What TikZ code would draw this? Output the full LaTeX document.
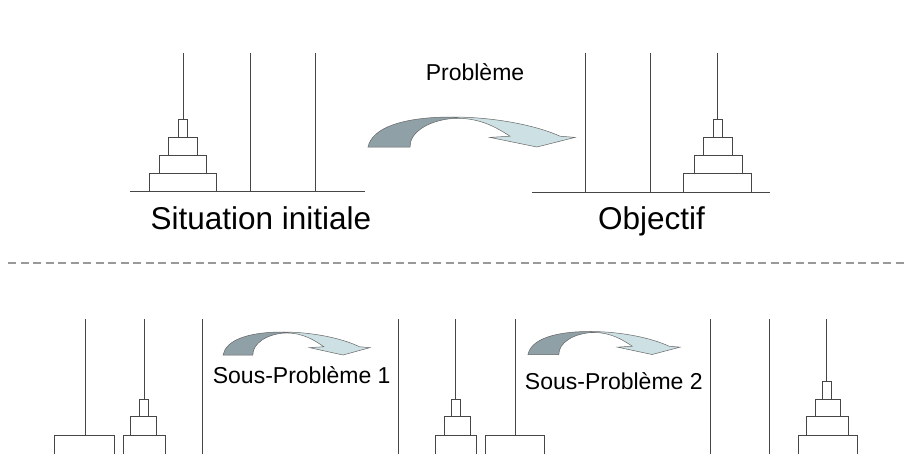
\documentclass[tikz,border=0pt]{standalone}
\usepackage{fontspec}
\setmainfont{Liberation Sans}
\definecolor{arrdark}{RGB}{143,160,167}
\definecolor{arrlight}{RGB}{205,225,229}
\definecolor{linecol}{RGB}{70,70,70}
\tikzset{
  peg/.style={draw=linecol, line width=1pt},
  disk/.style={draw=linecol, line width=1pt, fill=white},
  lbl/.style={anchor=base, inner sep=0pt, font=\fontsize{23}{27}\selectfont},
  biglbl/.style={anchor=base, inner sep=0pt, font=\fontsize{31.5}{36}\selectfont},
  arrpart/.style={draw=black!60, line width=0.5pt},
  sepline/.style={draw=black!40, line width=1.2pt, dash pattern=on 8pt off 4.5pt},
}
\newcommand\hanoiarrow[4]{%
  \begin{scope}[shift={(#1,#2)}, x=#3pt, y=-#4pt]
    \filldraw[arrpart, fill=arrlight] (0.406,0) .. controls (0.62,0) and (0.82,0.3) .. (0.928,0.64)
      -- (1,0.68) -- (0.816,1) -- (0.589,0.68) -- (0.686,0.64)
      .. controls (0.62,0.35) and (0.55,0.06) .. (0.435,0.04) -- cycle;
    \filldraw[arrpart, fill=arrdark] (0,1) .. controls (0.02,0.35) and (0.17,0) .. (0.406,0)
      -- (0.435,0.04) .. controls (0.3,0.06) and (0.2,0.5) .. (0.203,1) -- cycle;
  \end{scope}}
\newcommand\hdisk[4]{\draw[disk] ({#1-#2/2},#3) rectangle ({#1+#2/2},#4);}
\begin{document}
\begin{tikzpicture}[x=1pt, y=-1pt]
  \fill[white] (0,0) rectangle (907,453);
  \useasboundingbox (0,0) rectangle (907,453);

  % top left: initial situation
  \draw[peg] (130,191.7) -- (365,191.7);
  \draw[peg] (183.2,53.3) -- (183.2,191.7);
  \draw[peg] (250,53.3) -- (250,191.7);
  \draw[peg] (315,53.3) -- (315,191.7);
  \hdisk{183}{67}{173.5}{191.7}
  \hdisk{183}{47}{155.3}{173.5}
  \hdisk{183}{29}{137.2}{155.3}
  \hdisk{183.2}{9}{119}{137.2}

  % top right: objective
  \draw[peg] (532,192) -- (770,192);
  \draw[peg] (585,53.3) -- (585,192);
  \draw[peg] (650.7,53.3) -- (650.7,192);
  \draw[peg] (717.7,53.3) -- (717.7,192);
  \hdisk{717.5}{67.6}{173.5}{192}
  \hdisk{718.5}{47.3}{155.3}{173.5}
  \hdisk{718}{29.4}{137.2}{155.3}
  \hdisk{717.8}{9}{119}{137.2}

  \hanoiarrow{368}{117}{207}{30}
  \node[lbl] (prob) at (475,80.7) {Problème};
  \node[biglbl] (init) at (261,229.5) {Situation initiale};
  \node[biglbl] (obj) at (651.5,229.5) {Objectif};

  % separator
  \draw[sepline] (8,263) -- (907,263);

  % bottom group 1
  \draw[peg] (85,319.3) -- (85,456);
  \draw[peg] (144,319.3) -- (144,456);
  \draw[peg] (202.3,319.3) -- (202.3,456);
  \hdisk{84.5}{60}{435}{456}
  \hdisk{144.2}{41.7}{435}{456}
  \hdisk{143.2}{25.7}{416.7}{435}
  \hdisk{143.8}{9}{399.3}{416.7}

  % bottom group 2
  \draw[peg] (398.3,319.3) -- (398.3,456);
  \draw[peg] (455,319.3) -- (455,456);
  \draw[peg] (515,319.3) -- (515,456);
  \hdisk{456.2}{41}{435}{456}
  \hdisk{457}{26}{416.7}{435}
  \hdisk{456.2}{9}{399.3}{416.7}
  \hdisk{514.7}{59.3}{435}{456}

  % bottom group 3
  \draw[peg] (710,319.3) -- (710,456);
  \draw[peg] (769,319.3) -- (769,456);
  \draw[peg] (826.7,319.3) -- (826.7,456);
  \hdisk{827.8}{59}{435}{456}
  \hdisk{827.8}{41.7}{416.7}{435}
  \hdisk{828.2}{25}{399.3}{416.7}
  \hdisk{827.2}{9}{381.7}{399.3}

  \hanoiarrow{223}{332}{147}{23}
  \hanoiarrow{528}{331.5}{152}{23}
  \node[lbl] (sp1) at (301.7,383.5) {Sous-Problème 1};
  \node[lbl] (sp2) at (613.8,389.5) {Sous-Problème 2};
\end{tikzpicture}
\end{document}
